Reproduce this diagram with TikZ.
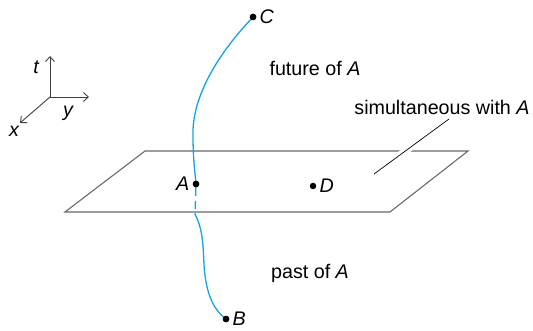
\documentclass[tikz,border=0pt]{standalone}
\usepackage{fontspec}
\setmainfont{Liberation Sans}
\usetikzlibrary{arrows.meta, positioning}
\definecolor{wline}{RGB}{20,165,225}
\definecolor{plane}{RGB}{105,105,105}
\tikzset{
  event/.style={circle, fill=black, inner sep=0pt, minimum size=6.5pt},
  lbl/.style={font=\fontsize{19.7}{23}\selectfont, inner sep=1pt},
  evlbl/.style={lbl, font=\fontsize{19.7}{23}\selectfont\itshape},
  axis/.style={-{Straight Barb[length=5pt, width=9pt]}, draw=black!75, line width=0.9pt},
  world/.style={draw=wline, line width=1.3pt},
  plane/.style={draw=plane, line width=1.1pt},
  leader/.style={draw=black, line width=0.7pt,
                 preaction={draw=white, line width=7pt}},
}
\begin{document}
\begin{tikzpicture}[x=1pt, y=-1pt]
  \useasboundingbox (0,0) rectangle (533,331);
  % axes
  \coordinate (o) at (50,97);
  \coordinate (tt) at (50,56);
  \coordinate (yt) at (89,97);
  \coordinate (xt) at (20,123);
  \draw[axis] (o) -- (tt);
  \draw[axis] (o) -- (yt);
  \draw[axis] (o) -- (xt);
  \node[evlbl] (tl) at (36,67) {t};
  \node[evlbl] (yl) at (68,113) {y};
  \node[evlbl] (xl) at (14,131) {x};
  % plane of simultaneity
  \coordinate (p1) at (145,151);
  \coordinate (p2) at (468,151);
  \coordinate (p3) at (390,212);
  \coordinate (p4) at (65,212);
  \draw[plane] (p1) -- (p2) -- (p3) -- (p4) -- cycle;
  \node[lbl] (sim) at (442,107) {simultaneous with \textit{A}};
  \coordinate (s1) at (374,174);
  \coordinate (s2) at (449,119);
  \draw[leader] (s1) -- (s2);
  % events
  \node[event] (C) at (253,17) {};
  \node[event] (A) at (196,184) {};
  \node[event] (D) at (313,186) {};
  \node[event] (B) at (226,319) {};
  \node[evlbl, right=2pt of C] (Cl) {C};
  \node[evlbl, left=2pt of A] (Al) {A};
  \node[evlbl, right=2pt of D] (Dl) {D};
  \node[evlbl, right=2pt of B] (Bl) {B};
  % world line
  \coordinate (w1) at (193,135);
  \coordinate (w2) at (195,214);
  \coordinate (w3) at (204,265);
  \draw[world] (C.center) .. controls (214,58) and (192,100) .. (w1)
    .. controls (193,160) and (195,172) .. (A.center);
  \draw[world, dash pattern=on 12pt off 5pt on 8pt off 4pt] (A.center) -- (w2);
  \draw[world] (w2) .. controls (202,228) and (203,240) .. (w3)
    .. controls (206,295) and (214,310) .. (B.center);
  \node[event] at (A) {};
  \node[event] at (B) {};
  \node[event] at (C) {};
  \node[lbl] (fut) at (315,68) {future of \textit{A}};
  \node[lbl] (past) at (310,273) {past of \textit{A}};
\end{tikzpicture}
\end{document}
